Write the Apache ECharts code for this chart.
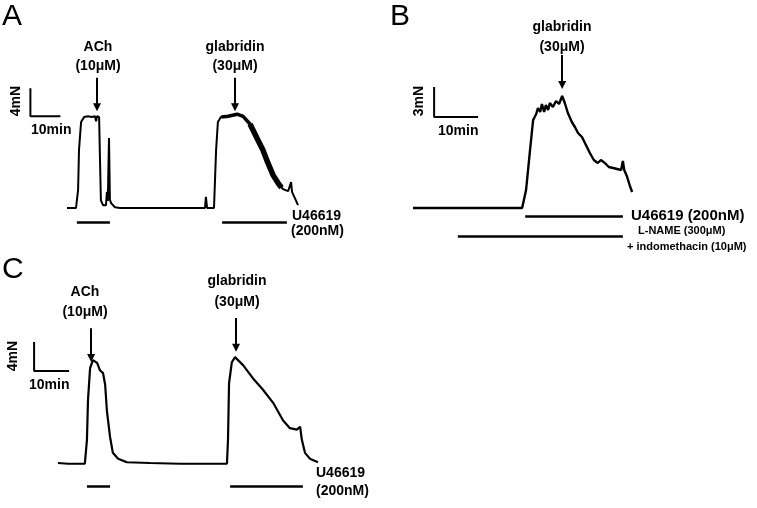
<!DOCTYPE html>
<html><head><meta charset="utf-8">
<script src="https://cdn.jsdelivr.net/npm/echarts@6/dist/echarts.min.js"></script>
<style>html,body{margin:0;padding:0;background:#fff}#c{width:757px;height:508px}</style>
</head><body><div id="c"></div>
<script>
// ---- Panel A: time (min), tension (mN above baseline)
const traceA = [[0,0],[3,0],[3.7,2.6],[4,8.3],[4.7,12.3],[5.7,13],[7,13.1],[8.3,13],[9.3,13.1],[9.7,12.4],[10,13.1],[10.7,13],[11,6.9],[11.3,1.1],[12,0.4],[13,0.4],[13.3,2.3],[13.6,1.0],[14,10],[14.3,1.2],[14.7,0.7],[15.3,0.5],[16,0.1],[17.7,0],[46,0],[46.3,1.6],[46.7,0],[49,0],[49.7,8.3],[50.3,12.3],[51.3,13],[53.7,13.1],[56.7,13.4],[58.7,13.1],[61,12],[63.3,10],[65.3,8.3],[67,6.4],[68.7,4.7],[70.3,3.6],[72,2.7],[73.7,2.4],[74.3,2.3],[74.7,3.7],[75,2.3],[76.3,1.1],[77,0.4]];
const noiseA = [[51.5,13],[53.7,13.1],[56.7,13.4],[58.7,13.1],[61,12]];
const bandA = [[61,12],[63.3,10],[65.3,8.3],[67,6.4],[68.7,4.7],[70.3,3.6],[71.5,2.9]];
const drugBarsA = [[[3.3,-2.1],[14.3,-2.1]],[[51.7,-2.1],[73.3,-2.1]]];
const arrowsA = [[[10,18.6],[10,14.4]],[[56,18.6],[56,14.4]]];
const scaleA = [[-12.2,17.1],[-12.2,13.1],[-2.2,13.1]];

// ---- Panel B
const traceB = [[0,0],[24.8,0],[25.7,1.8],[26.6,5.8],[27.3,8.8],[28,9.4],[28.4,10],[28.9,9.6],[29.3,10.4],[29.8,9.6],[30.2,10.3],[30.7,9.8],[31.1,10.5],[31.8,10.1],[32.5,10.7],[33.2,10.4],[33.9,11.2],[34.5,10.5],[35.2,9.5],[36.1,8.6],[36.8,8.1],[37.5,7.5],[38.4,7.1],[39.3,6.3],[40.2,5.5],[41.1,4.8],[42,4.5],[42.7,4.8],[43.6,4.5],[44.5,4.1],[45.5,4],[46.4,3.9],[47.3,3.8],[47.7,4.7],[48,3.8],[48.6,3.2],[49.3,2.2],[49.8,1.6]];
const drugBarsB = [[[25.5,-0.8],[47.7,-0.8]],[[10.2,-2.8],[47.7,-2.8]]];
const arrowsB = [[[33.9,15.3],[33.9,12.3]]];
const scaleB = [[4.8,12.1],[4.8,9.1],[14.8,9.1]];

// ---- Panel C
const traceC = [[-0.6,0],[2.3,-0.1],[7.1,-0.1],[7.7,3.2],[8,8.7],[8.6,13.1],[9.4,14.2],[10.6,13.8],[11.4,12.8],[12.3,12.4],[12.9,10.8],[13.4,7.2],[14.3,3.6],[15.1,1.4],[16.6,0.6],[19.1,0.1],[25.7,0],[34.3,-0.1],[47.7,-0.1],[48,3.2],[48.3,11],[49.1,13.9],[50,14.6],[52.3,13.5],[55.1,11.7],[58,10.1],[60.9,8.3],[63.7,5.9],[65.7,4.8],[67.7,4.6],[68.6,5],[69.1,3.2],[70,1.4],[71.4,0.6],[73.7,0.1]];
const drugBarsC = [[[7.7,-3.2],[14.3,-3.2]],[[48.6,-3.2],[69.4,-3.2]]];
const arrowsC = [[[8.9,18.6],[8.9,14.5]],[[50.3,20],[50.3,15.9]]];
const scaleC = [[-7.4,16.7],[-7.4,12.7],[2.6,12.7]];

const FONT = '"Liberation Sans", Arial, Helvetica, sans-serif';
const chart = echarts.init(document.getElementById('c'), null, {renderer:'canvas'});

function ax(min,max){return {type:'value',min:min,max:max,show:false};}
function trace(data,i,w){return {type:'line',xAxisIndex:i,yAxisIndex:i,data:data,showSymbol:false,symbol:'none',lineStyle:{color:'#000',width:w},clip:false,silent:true,animation:false};}
function segs(list,i,w,arrow){return {type:'lines',coordinateSystem:'cartesian2d',xAxisIndex:i,yAxisIndex:i,
  data:list.map(c=>({coords:c})),symbol:arrow?['none','triangle']:'none',symbolSize:arrow?[1,8]:0,
  lineStyle:{color:'#000',width:w,opacity:1},itemStyle:{color:'#000'},silent:true,animation:false};}

function txt(s,x,y,size,align,weight,rot){
  return {type:'text',x:x,y:y,rotation:rot||0,silent:true,
    style:{text:s,x:0,y:0,font:(weight||'bold')+' '+size+'px '+FONT,fill:'#000',
      align:align||'center',verticalAlign:'middle',textAlign:align||'center',textVerticalAlign:'middle'}};
}

const option = {
  backgroundColor:'#fff',
  animation:false,
  grid:[
    {left:28,top:68,width:279,height:175},
    {left:404.2,top:48,width:237.6,height:200},
    {left:25,top:303.5,width:315,height:195.75}
  ],
  xAxis:[{gridIndex:0,...ax(-13,80)},{gridIndex:1,...ax(-2,52)},{gridIndex:2,...ax(-10,80)}],
  yAxis:[{gridIndex:0,...ax(-5,20)},{gridIndex:1,...ax(-4,16)},{gridIndex:2,...ax(-5,22)}],
  series:[
    trace(traceA,0,2), trace(noiseA,0,3.5), trace(bandA,0,5.5),
    segs(drugBarsA,0,2.5,false), segs(arrowsA,0,2,true), trace(scaleA,0,2),
    trace(traceB,1,2.4),
    segs(drugBarsB,1,2.5,false), segs(arrowsB,1,2,true), trace(scaleB,1,2),
    trace(traceC,2,2.2),
    segs(drugBarsC,2,2.5,false), segs(arrowsC,2,2,true), trace(scaleC,2,2)
  ],
  graphic:[
    // Panel A
    txt('A',2,17,30,'left','normal'),
    txt('ACh',98,47,14), txt('(10μM)',98,66,14),
    txt('glabridin',235,47,14), txt('(30μM)',235,66,14),
    txt('4mN',16,101,14,'center','bold',Math.PI/2),
    txt('10min',31,130,14,'left'),
    txt('U46619',292,216,14,'left'), txt('(200nM)',291,231,14,'left'),
    // Panel B
    txt('B',390,17,30,'left','normal'),
    txt('glabridin',562,27,14), txt('(30μM)',562,47,14),
    txt('3mN',419,101,14,'center','bold',Math.PI/2),
    txt('10min',438,131,14,'left'),
    txt('U46619 (200nM)',631,216,15,'left'),
    txt('L-NAME (300μM)',638,231,11,'left'),
    txt('+ indomethacin (10μM)',627,247,11,'left'),
    // Panel C
    txt('C',2,270,30,'left','normal'),
    txt('ACh',85,292,14), txt('(10μM)',85,312,14),
    txt('glabridin',237,281,14), txt('(30μM)',237,302,14),
    txt('4mN',13,356,14,'center','bold',Math.PI/2),
    txt('10min',29,385,14,'left'),
    txt('U46619',316,473,14,'left'), txt('(200nM)',316,491,14,'left')
  ]
};
chart.setOption(option);
</script>
</body></html>
